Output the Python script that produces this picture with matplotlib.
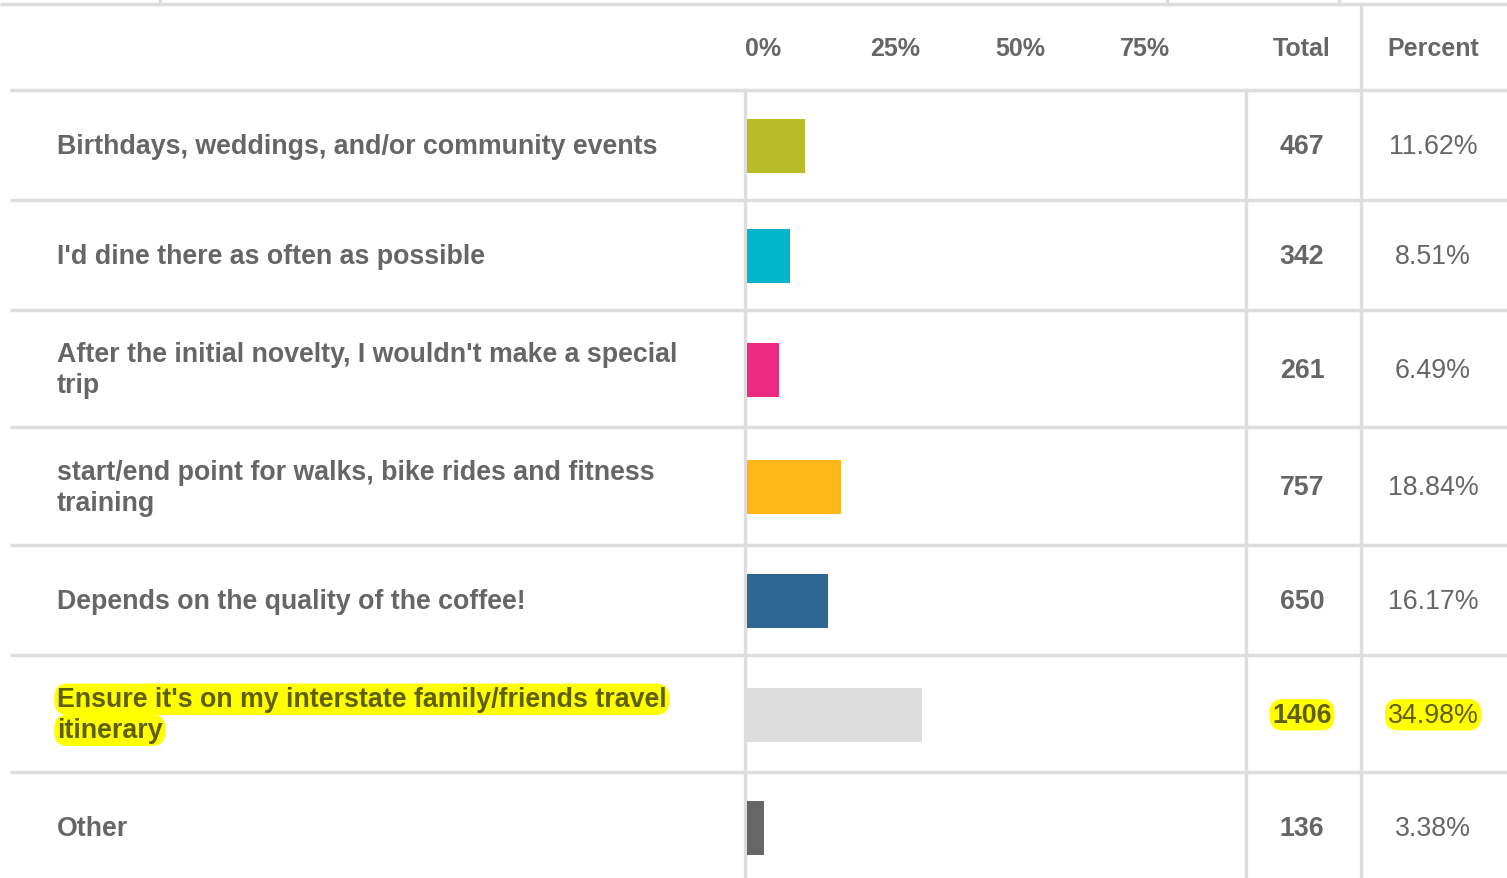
import matplotlib
matplotlib.use("Agg")
import matplotlib.pyplot as plt

plt.rcParams['font.family'] = ['Liberation Sans', 'DejaVu Sans']

# answer options, counts and shares
labels = [
    "Birthdays, weddings, and/or community events",
    "I'd dine there as often as possible",
    "After the initial novelty, I wouldn't make a special\ntrip",
    "start/end point for walks, bike rides and fitness\ntraining",
    "Depends on the quality of the coffee!",
    "Ensure it's on my interstate family/friends travel\nitinerary",
    "Other",
]
totals = [467, 342, 261, 757, 650, 1406, 136]
percents = [11.62, 8.51, 6.49, 18.84, 16.17, 34.98, 3.38]
colors = ['#b8bc27', '#00b5cc', '#ed2a83', '#ffb619', '#2f6794', '#dddddd', '#666666']
ticks = [0, 25, 50, 75]
highlight = 5

W, H = 1507, 879
TXT = '#666666'
GRID = '#dddddd'
HL_TXT = '#5f5f00'
FS = 19.3
FS_HEAD = 18

fig = plt.figure(figsize=(W / 100, H / 100), dpi=100)
ax = fig.add_axes([0, 0, 1, 1])
ax.set_xlim(0, W)
ax.set_ylim(H, 0)
ax.axis('off')

# row geometry: two-line rows are a bit taller
top = 90.5
row_h = [117.5 if '\n' in s else 110 for s in labels]
edges = [top]
for h in row_h:
    edges.append(edges[-1] + h)
centers = [(edges[i] + edges[i + 1]) / 2 + 1.5 for i in range(len(labels))]

# grid lines
ax.plot([0, W], [4.5, 4.5], color=GRID, lw=2.5, solid_capstyle='butt')
for x in [160, 1167, 1339]:
    ax.plot([x, x], [0, 4.5], color=GRID, lw=2.5)
for y in edges[:-1]:
    ax.plot([10, W], [y, y], color=GRID, lw=2.5, solid_capstyle='butt')
ax.plot([745, 745], [top, H], color=GRID, lw=2.5)
ax.plot([1246, 1246], [top, H], color=GRID, lw=2.5)
ax.plot([1361, 1361], [4.5, H], color=GRID, lw=2.5)

# header
ax.text(1302, 49, "Total", ha='center', va='center', fontsize=FS_HEAD,
        fontweight='bold', color=TXT)
ax.text(1433, 49, "Percent", ha='center', va='center', fontsize=FS_HEAD,
        fontweight='bold', color=TXT)

hl_box = dict(boxstyle='round,pad=0.1,rounding_size=0.5', fc='#ffff00', ec='none')

for i, lab in enumerate(labels):
    lines = lab.split('\n')
    hl = i == highlight
    c = HL_TXT if hl else TXT
    y0 = centers[i] - (len(lines) - 1) * 31 / 2
    for k, line in enumerate(lines):
        ax.text(57, y0 + k * 31, line, ha='left', va='center', fontsize=FS,
                fontweight='bold', color=c, bbox=hl_box if hl else None)
    ax.text(1302, centers[i], str(totals[i]), ha='center', va='center',
            fontsize=FS, fontweight='bold', color=c,
            bbox=hl_box if hl else None)
    ax.text(1433, centers[i], f"{percents[i]:.2f}%", ha='center', va='center',
            fontsize=FS, color=c, bbox=hl_box if hl else None)

# bar area: 0-100% across the chart column
axb = fig.add_axes([747 / W, 0, 500 / W, 1])
axb.set_xlim(0, 100)
axb.set_ylim(H, 0)
axb.axis('off')
axb.barh(centers, percents, height=54, color=colors, align='center')
for t in ticks:
    axb.text(t - 0.4, 49, f"{t}%", ha='left', va='center', fontsize=FS_HEAD,
             fontweight='bold', color=TXT)

fig.savefig('out.png', dpi=100)
